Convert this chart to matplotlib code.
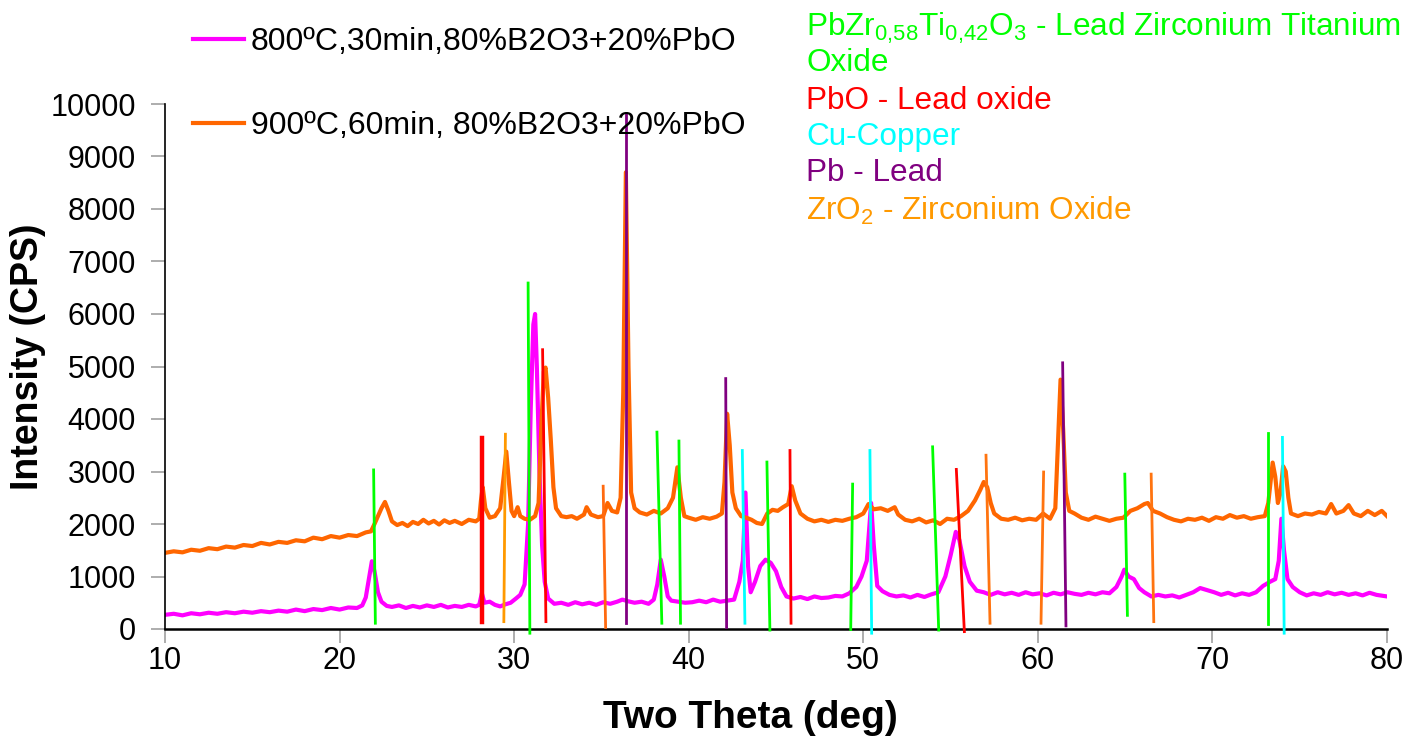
import matplotlib
matplotlib.use("Agg")
import matplotlib.pyplot as plt

plt.rcParams['font.family'] = ['Liberation Sans', 'DejaVu Sans']
plt.rcParams['mathtext.default'] = 'regular'

# 900 C, 60 min pattern (orange)
theta_900 = [10.0, 10.5, 11.0, 11.5, 12.0, 12.5, 13.0, 13.5, 14.0, 14.5, 15.0, 15.5, 16.0, 16.5,
             17.0, 17.5, 18.0, 18.5, 19.0, 19.5, 20.0, 20.5, 21.0, 21.5, 21.8, 22.0, 22.2, 22.4,
             22.6, 22.8, 23.0, 23.3, 23.6, 23.9, 24.2, 24.5, 24.8, 25.1, 25.4, 25.7, 26.0, 26.3,
             26.6, 27.0, 27.4, 27.8, 28.0, 28.1, 28.2, 28.35, 28.6, 28.9, 29.2, 29.4, 29.55, 29.7,
             29.85, 30.0, 30.2, 30.35, 30.6, 30.9, 31.2, 31.4, 31.55, 31.7, 31.8, 31.95, 32.1, 32.25,
             32.4, 32.7, 33.0, 33.3, 33.6, 34.0, 34.15, 34.4, 34.8, 35.1, 35.35, 35.6, 35.9, 36.1,
             36.25, 36.4, 36.55, 36.7, 36.9, 37.2, 37.6, 38.0, 38.4, 38.8, 39.1, 39.35, 39.55, 39.75,
             40.0, 40.4, 40.8, 41.2, 41.6, 41.9, 42.05, 42.2, 42.35, 42.5, 42.7, 43.0, 43.3, 43.6,
             43.9, 44.2, 44.5, 44.8, 45.1, 45.4, 45.7, 45.9, 46.1, 46.4, 46.8, 47.2, 47.6, 48.0,
             48.4, 48.8, 49.2, 49.6, 50.0, 50.3, 50.6, 51.0, 51.4, 51.8, 52.0, 52.4, 52.8, 53.2,
             53.6, 54.0, 54.4, 54.8, 55.2, 55.6, 56.0, 56.4, 56.7, 56.9, 57.1, 57.3, 57.5, 57.9,
             58.3, 58.7, 59.1, 59.5, 59.9, 60.3, 60.7, 61.0, 61.15, 61.3, 61.45, 61.6, 61.8, 62.1,
             62.5, 62.9, 63.3, 63.7, 64.1, 64.5, 64.9, 65.3, 65.7, 66.1, 66.3, 66.6, 67.0, 67.4,
             67.8, 68.2, 68.6, 69.0, 69.4, 69.8, 70.2, 70.6, 71.0, 71.4, 71.8, 72.2, 72.6, 73.0,
             73.2, 73.45, 73.6, 73.75, 73.9, 74.05, 74.2, 74.35, 74.5, 74.9, 75.3, 75.7, 76.1, 76.5,
             76.8, 77.1, 77.5, 77.8, 78.1, 78.5, 78.9, 79.3, 79.7, 80.0]
cps_900 = [1450, 1480, 1460, 1510, 1490, 1540, 1520, 1570, 1550, 1600, 1580, 1640, 1610, 1660,
           1640, 1690, 1670, 1740, 1710, 1770, 1740, 1790, 1770, 1840, 1860, 2000, 2150, 2300,
           2420, 2250, 2050, 1980, 2020, 1960, 2040, 2000, 2080, 2010, 2060, 1990, 2070, 2020,
           2060, 2000, 2080, 2050, 2100, 2450, 2700, 2300, 2120, 2150, 2300, 2900, 3380, 2800,
           2250, 2150, 2320, 2150, 2100, 2080, 2150, 2400, 3800, 4900, 4980, 4400, 3600, 2700,
           2300, 2150, 2130, 2150, 2100, 2180, 2320, 2180, 2130, 2150, 2400, 2250, 2220, 2500,
           4500, 8700, 5000, 2600, 2300, 2220, 2180, 2250, 2200, 2300, 2500, 3080, 2500, 2150,
           2120, 2080, 2130, 2100, 2140, 2200, 2800, 4100, 3500, 2600, 2300, 2150, 2120, 2080,
           2020, 2000, 2200, 2270, 2250, 2320, 2380, 2720, 2450, 2200, 2100, 2050, 2080, 2040,
           2080, 2060, 2100, 2130, 2200, 2380, 2280, 2300, 2250, 2320, 2180, 2080, 2050, 2100,
           2030, 2070, 2000, 2100, 2080, 2150, 2250, 2450, 2650, 2800, 2700, 2400, 2200, 2100,
           2080, 2120, 2070, 2100, 2080, 2200, 2100, 2300, 3500, 4750, 3800, 2600, 2250, 2200,
           2120, 2080, 2140, 2100, 2060, 2100, 2120, 2250, 2300, 2380, 2400, 2250, 2200, 2130,
           2080, 2050, 2100, 2080, 2120, 2060, 2130, 2100, 2170, 2120, 2150, 2100, 2130, 2150,
           2400, 3170, 2900, 2400, 2600, 3100, 3000, 2500, 2200, 2150, 2200, 2180, 2230, 2200,
           2380, 2200, 2250, 2360, 2200, 2150, 2250, 2170, 2250, 2150]

# 800 C, 30 min pattern (magenta)
theta_800 = [10.0, 10.5, 11.0, 11.5, 12.0, 12.5, 13.0, 13.5, 14.0, 14.5, 15.0, 15.5, 16.0, 16.5,
             17.0, 17.5, 18.0, 18.5, 19.0, 19.5, 20.0, 20.5, 21.0, 21.3, 21.5, 21.7, 21.85, 22.0,
             22.2, 22.4, 22.7, 23.0, 23.4, 23.8, 24.2, 24.6, 25.0, 25.4, 25.8, 26.2, 26.6, 27.0,
             27.4, 27.8, 28.0, 28.15, 28.3, 28.6, 28.9, 29.2, 29.5, 29.8, 30.1, 30.35, 30.6, 30.8,
             30.95, 31.1, 31.2, 31.3, 31.45, 31.6, 31.75, 31.95, 32.3, 32.7, 33.1, 33.5, 33.9, 34.3,
             34.7, 35.1, 35.5, 35.9, 36.2, 36.5, 36.9, 37.3, 37.7, 38.0, 38.2, 38.4, 38.6, 38.8,
             39.0, 39.4, 39.8, 40.2, 40.6, 41.0, 41.4, 41.8, 42.2, 42.6, 42.9, 43.1, 43.25, 43.4,
             43.55, 43.8, 44.1, 44.4, 44.7, 45.0, 45.3, 45.6, 46.0, 46.4, 46.8, 47.2, 47.6, 48.0,
             48.4, 48.8, 49.2, 49.6, 49.9, 50.2, 50.45, 50.6, 50.8, 51.1, 51.5, 51.9, 52.3, 52.7,
             53.1, 53.5, 53.9, 54.3, 54.7, 55.0, 55.3, 55.5, 55.8, 56.1, 56.5, 56.9, 57.3, 57.7,
             58.1, 58.5, 58.9, 59.3, 59.7, 60.1, 60.5, 60.9, 61.3, 61.7, 62.1, 62.5, 62.9, 63.3,
             63.7, 64.1, 64.5, 64.8, 64.95, 65.2, 65.5, 65.8, 66.1, 66.5, 66.9, 67.3, 67.7, 68.1,
             68.5, 68.9, 69.3, 69.7, 70.1, 70.5, 70.9, 71.3, 71.7, 72.1, 72.5, 72.9, 73.3, 73.6,
             73.8, 73.95, 74.1, 74.3, 74.6, 75.0, 75.4, 75.8, 76.2, 76.6, 77.0, 77.4, 77.8, 78.2,
             78.6, 79.0, 79.4, 79.8, 80.0]
cps_800 = [270, 290, 260, 300, 280, 310, 290, 320, 300, 330, 310, 340, 320, 350,
           330, 370, 340, 380, 360, 400, 370, 410, 400, 450, 600, 1000, 1290, 1100,
           700, 520, 440, 420, 450, 400, 440, 410, 450, 420, 460, 410, 440, 420,
           460, 430, 460, 680, 500, 520, 460, 430, 470, 500, 580, 650, 850, 2000,
           4200, 5800, 6000, 5000, 3000, 1600, 900, 580, 480, 500, 460, 510, 470, 500,
           460, 510, 480, 520, 560, 530, 500, 520, 480, 560, 850, 1320, 1000, 620,
           540, 520, 500, 510, 540, 510, 560, 520, 540, 560, 900, 1300, 2600, 1200,
           700, 900, 1200, 1320, 1260, 1100, 800, 620, 580, 610, 570, 620, 590, 600,
           630, 620, 680, 800, 1000, 1300, 2400, 1600, 820, 720, 650, 620, 640, 600,
           650, 610, 660, 700, 1000, 1400, 1850, 1700, 1200, 900, 730, 700, 650, 700,
           660, 690, 650, 700, 660, 680, 640, 690, 660, 700, 670, 650, 690, 660,
           700, 680, 800, 1000, 1130, 1000, 950, 780, 700, 620, 650, 620, 640, 600,
           650, 700, 780, 740, 700, 650, 690, 640, 680, 650, 700, 820, 900, 950,
           1300, 2100, 1500, 950, 800, 700, 640, 680, 650, 700, 660, 690, 650, 680,
           640, 690, 650, 630, 620]

# reference stick lines: top and bottom ends (two theta, cps) per phase
pzt_top_theta = [21.95, 30.80, 38.18, 39.44, 44.48, 49.39, 53.97, 64.98, 73.17]
pzt_top_cps = [3030, 6590, 3750, 3580, 3180, 2760, 3470, 2950, 3730]
pzt_bot_theta = [22.05, 30.90, 38.46, 39.53, 44.65, 49.28, 54.32, 65.13, 73.17]
pzt_bot_cps = [110, -80, 110, 110, -20, -10, -20, 260, 90]

pbo_top_theta = [28.18, 31.63, 45.80, 55.33]
pbo_top_cps = [3630, 5320, 3400, 3040]
pbo_bot_theta = [28.18, 31.82, 45.86, 55.79]
pbo_bot_cps = [140, 140, 110, -50]

cu_top_theta = [43.07, 50.38, 74.01]
cu_top_cps = [3400, 3400, 3650]
cu_bot_theta = [43.22, 50.48, 74.11]
cu_bot_cps = [110, -80, -80]

pb_top_theta = [36.40, 42.12, 61.42]
pb_top_cps = [9830, 4770, 5070]
pb_bot_theta = [36.40, 42.17, 61.61]
pb_bot_cps = [110, 30, 60]

zro2_top_theta = [29.50, 35.10, 57.03, 60.33, 66.49]
zro2_top_cps = [3710, 2720, 3310, 2990, 2950]
zro2_bot_theta = [29.41, 35.24, 57.26, 60.18, 66.64]
zro2_bot_cps = [140, 30, 110, 110, 140]

phase_labels = [r'PbZr$_{0{,}58}$Ti$_{0{,}42}$O$_3$ - Lead Zirconium Titanium', 'Oxide',
                'PbO - Lead oxide', 'Cu-Copper', 'Pb - Lead', r'ZrO$_2$ - Zirconium Oxide']
phase_label_colors = ['#00FF00', '#00FF00', '#FF0000', '#00FFFF', '#800080', '#FF9900']
phase_label_y = [28, 63, 101, 137, 173, 211]

W, H = 1420, 749
fig = plt.figure(figsize=(W / 100, H / 100), dpi=100)
ax = fig.add_axes([165 / W, 1 - 629 / H, (1387 - 165) / W, (629 - 104) / H])

l1, = ax.plot(theta_800, cps_800, color='#FF00FF', lw=3, solid_joinstyle='round')
l2, = ax.plot(theta_900, cps_900, color='#FF6600', lw=3, solid_joinstyle='round')


def sticks(tt, tc, bt, bc, color, lw=2.0):
    for i in range(len(tt)):
        c = color[i] if isinstance(color, list) else color
        w = lw[i] if isinstance(lw, list) else lw
        ax.plot([tt[i], bt[i]], [tc[i], bc[i]], color=c, lw=w, clip_on=False, zorder=3)


sticks(pzt_top_theta, pzt_top_cps, pzt_bot_theta, pzt_bot_cps, '#00FF00')
sticks(pbo_top_theta, pbo_top_cps, pbo_bot_theta, pbo_bot_cps, '#FF0000', lw=[3.2, 2, 2, 2])
sticks(cu_top_theta, cu_top_cps, cu_bot_theta, cu_bot_cps, '#00FFFF')
sticks(pb_top_theta, pb_top_cps, pb_bot_theta, pb_bot_cps, '#800080')
sticks(zro2_top_theta, zro2_top_cps, zro2_bot_theta, zro2_bot_cps,
       ['#FF9900', '#FF6A10', '#FF7410', '#FF7410', '#FF7410'])

ax.set_xlim(10, 80)
ax.set_ylim(0, 10000)
ax.set_xticks(range(10, 81, 10))
ax.set_yticks(range(0, 10001, 1000))
ax.tick_params(axis='both', labelsize=22, color='#A0A0A0', length=10, width=1.2)
ax.tick_params(axis='x', pad=2)
ax.tick_params(axis='y', pad=11)
for s in ['top', 'right']:
    ax.spines[s].set_visible(False)
ax.spines['left'].set_linewidth(1.2)
ax.spines['bottom'].set_linewidth(1.8)
ax.set_xlabel('Two Theta (deg)', fontsize=28, fontweight='bold', va='center', ha='center')
ax.set_ylabel('Intensity (CPS)', fontsize=27, fontweight='bold', va='center', ha='center')
ax.xaxis.set_label_coords((750 - 165) / 1222, (629 - 718) / 525)
ax.yaxis.set_label_coords((28 - 165) / 1222, (629 - 357) / 525)

fig.legend([l1, l2], ['800ºC,30min,80%B2O3+20%PbO', '900ºC,60min, 80%B2O3+20%PbO'],
           loc='upper left', bbox_to_anchor=(193 / W, 1 - 27 / H), frameon=False,
           fontsize=23, handlelength=1.6, handletextpad=0.2, labelspacing=1.7,
           borderpad=0, borderaxespad=0)

for lab, c, y in zip(phase_labels, phase_label_colors, phase_label_y):
    fig.text(806 / W, 1 - y / H, lab, color=c, fontsize=22.7, va='center', ha='left')

fig.savefig('out.png', dpi=100)
